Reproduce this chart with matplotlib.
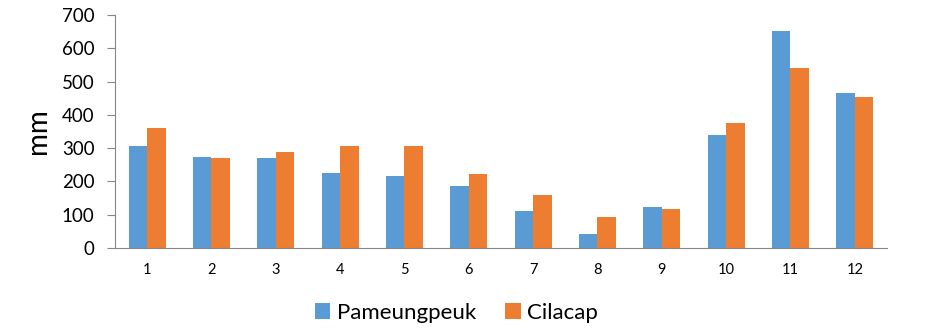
import matplotlib.pyplot as plt
import numpy as np

plt.rcParams['font.family'] = ['Lato', 'DejaVu Sans']

months = ['1', '2', '3', '4', '5', '6', '7', '8', '9', '10', '11', '12']
pameungpeuk = [306, 273, 270, 225, 216, 186, 111, 42, 123, 339, 652, 466]
cilacap = [360, 270, 288, 306, 306, 222, 159, 93, 117, 375, 541, 454]

fig = plt.figure(figsize=(9.41, 3.33), dpi=100)
ax = fig.add_axes([0.1222, 0.2553, 0.8204, 0.6997])

x = np.arange(len(months))
w = 0.288
ax.bar(x - w / 2, pameungpeuk, w, color='#5B9BD5', label='Pameungpeuk')
ax.bar(x + w / 2, cilacap, w, color='#ED7D31', label='Cilacap')

ax.set_xlim(-0.5, len(months) - 0.5)
ax.set_ylim(0, 700)
ax.set_yticks(range(0, 701, 100))
ax.set_xticks(x)
ax.set_xticklabels(months, fontsize=10.5)
ax.tick_params(axis='x', length=0, pad=11)
ax.tick_params(axis='y', labelsize=13.5, length=5.8, color='#868686', pad=9)
ax.set_ylabel('mm', fontsize=20, labelpad=8)

for s in ['top', 'right']:
    ax.spines[s].set_visible(False)
ax.spines['left'].set_color('#868686')
ax.spines['bottom'].set_color('#868686')

fig.legend(loc='center', bbox_to_anchor=(0.485, 0.06), ncol=2, frameon=False,
           fontsize=16, handlelength=0.7, handleheight=0.7, columnspacing=1.3,
           handletextpad=0.3)

fig.savefig('out.png', dpi=100)
